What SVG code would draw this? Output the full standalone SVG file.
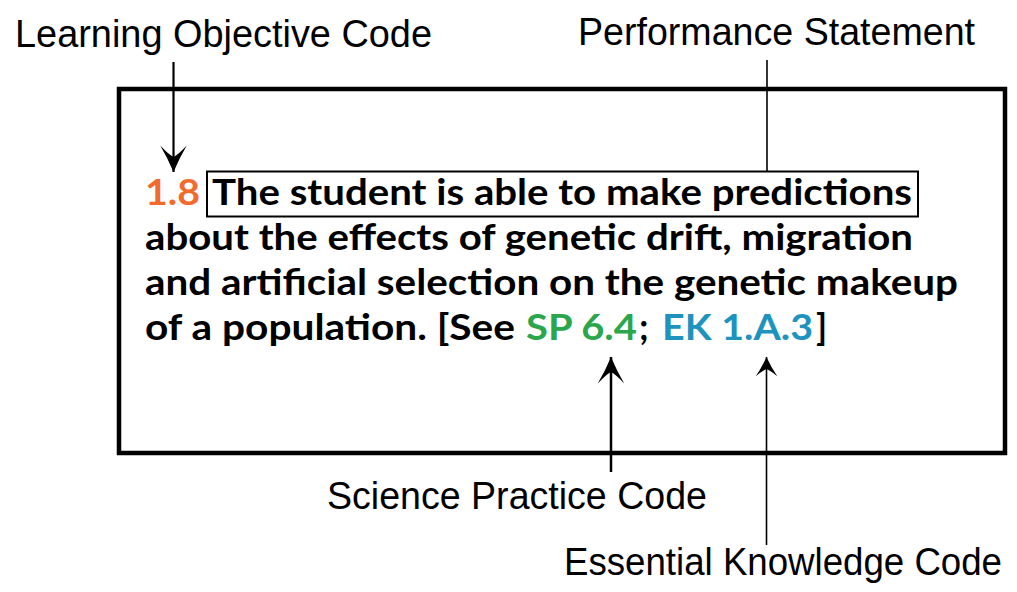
<svg xmlns="http://www.w3.org/2000/svg" width="1017" height="592" viewBox="0 0 1017 592">
<style>
.lbl{font-family:"Liberation Sans","DejaVu Sans",sans-serif;font-size:38px;fill:#000}
.body{font-family:Lato,"Liberation Sans",sans-serif;font-weight:bold;font-size:35.5px;fill:#000}
.or{fill:#F26A2C}
.gr{fill:#2AA64C}
.bl{fill:#1E93BE}
.conn{stroke:#000;fill:none}
</style>
<defs>
<marker id="ah" markerUnits="userSpaceOnUse" markerWidth="30" markerHeight="30" viewBox="-24 -13 26 26" refX="0" refY="0" orient="auto">
<path d="M0,0 Q-12,-5 -23,-11.5 Q-15,-4 -13,0 Q-15,4 -23,11.5 Q-12,5 0,0 Z" fill="#000"/>
</marker>
<marker id="ahs" markerUnits="userSpaceOnUse" markerWidth="24" markerHeight="24" viewBox="-18 -10 20 20" refX="0" refY="0" orient="auto">
<path d="M0,0 Q-9,-4 -16,-9 Q-11,-3 -10,0 Q-11,3 -16,9 Q-9,4 0,0 Z" fill="#000"/>
</marker>
</defs>
<g id="main-box">
<rect x="119" y="89" width="886" height="364" fill="none" stroke="#000" stroke-width="4.5"/>
</g>
<g id="performance-box">
<rect x="207" y="171.5" width="711" height="45" fill="none" stroke="#000" stroke-width="2"/>
</g>
<g id="statement">
<text class="body or" x="145" y="205" textLength="55" lengthAdjust="spacingAndGlyphs">1.8</text>
<text class="body" x="212" y="205" textLength="700" lengthAdjust="spacingAndGlyphs">The student is able to make predictions</text>
<text class="body" x="145" y="250" textLength="768" lengthAdjust="spacingAndGlyphs">about the effects of genetic drift, migration</text>
<text class="body" x="145" y="295" textLength="813" lengthAdjust="spacingAndGlyphs">and artificial selection on the genetic makeup</text>
<text class="body" x="145" y="340" textLength="370" lengthAdjust="spacingAndGlyphs">of a population. [See</text>
<text class="body gr" x="526" y="340" textLength="111" lengthAdjust="spacingAndGlyphs">SP 6.4</text>
<text class="body" x="639" y="340">;</text>
<text class="body bl" x="662" y="340" textLength="151" lengthAdjust="spacingAndGlyphs">EK 1.A.3</text>
<text class="body" x="816" y="340">]</text>
</g>
<g id="label-learning-objective">
<text class="lbl" x="15" y="47" textLength="417" lengthAdjust="spacingAndGlyphs">Learning Objective Code</text>
</g>
<g id="label-performance">
<text class="lbl" x="578" y="45" textLength="397" lengthAdjust="spacingAndGlyphs">Performance Statement</text>
</g>
<g id="label-science-practice">
<text class="lbl" x="327" y="509" textLength="380" lengthAdjust="spacingAndGlyphs">Science Practice Code</text>
</g>
<g id="label-essential-knowledge">
<text class="lbl" x="564" y="575" font-size="36" textLength="438" lengthAdjust="spacingAndGlyphs">Essential Knowledge Code</text>
</g>
<g id="connectors">
<line class="conn" x1="173.5" y1="62" x2="173.5" y2="172" stroke-width="2.2" marker-end="url(#ah)"/>
<line class="conn" x1="767" y1="60" x2="767" y2="171" stroke-width="1.6"/>
<line class="conn" x1="611" y1="472" x2="611" y2="357" stroke-width="2.5" marker-end="url(#ah)"/>
<line class="conn" x1="766.5" y1="545" x2="766.5" y2="357" stroke-width="1.6" marker-end="url(#ahs)"/>
</g>
</svg>
